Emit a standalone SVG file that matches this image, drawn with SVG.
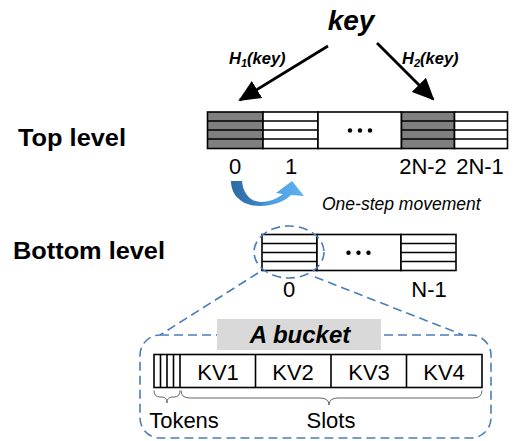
<svg xmlns="http://www.w3.org/2000/svg" width="520" height="441" viewBox="0 0 520 441">
<style>
.cell{fill:#fff;stroke:#000;stroke-width:1.6}
.dark{fill:#7f7f7f;stroke:#000;stroke-width:1.6}
.row{stroke:#000;stroke-width:1.6;fill:none}
.lbl{font-family:"Liberation Sans",Arial,sans-serif;font-size:22px;fill:#000;text-anchor:middle}
.big{font-family:"Liberation Sans",Arial,sans-serif;font-size:24px;font-weight:bold;fill:#000}
.bi{font-family:"Liberation Sans",Arial,sans-serif;font-weight:bold;font-style:italic;fill:#000}
.dash{fill:none;stroke:#4a7ebb;stroke-width:1.6;stroke-dasharray:9,5}
.brace{fill:none;stroke:#666;stroke-width:1}
.arrow{stroke:#000;stroke-width:2.8;fill:none;marker-end:url(#ah)}
</style>
<defs>
<marker id="ah" viewBox="0 0 22 20" refX="20" refY="10" markerWidth="22" markerHeight="20" markerUnits="userSpaceOnUse" orient="auto">
<path d="M0,0 L22,10 L0,20 Z" fill="#000"/>
</marker>
<linearGradient id="blue" x1="0" y1="0" x2="1" y2="0">
<stop offset="0" stop-color="#2c6aa3"/>
<stop offset="0.35" stop-color="#3a7fc0"/>
<stop offset="0.55" stop-color="#4f9fe0"/>
<stop offset="1" stop-color="#5cb2f2"/>
</linearGradient>
</defs>
<rect width="520" height="441" fill="#fff"/>

<g id="key">
<text class="bi" x="351" y="30" font-size="28" text-anchor="middle">key</text>
</g>
<g id="h1-label">
<text class="bi" x="229" y="64" font-size="16.5">H<tspan font-size="11" dy="3">1</tspan><tspan dy="-3">(key)</tspan></text>
</g>
<g id="h2-label">
<text class="bi" x="402" y="64" font-size="16.5">H<tspan font-size="11" dy="3">2</tspan><tspan dy="-3">(key)</tspan></text>
</g>

<g id="top-level-label">
<text class="big" x="18" y="146" textLength="108" lengthAdjust="spacingAndGlyphs">Top level</text>
</g>
<g id="bottom-level-label">
<text class="big" x="13" y="259" textLength="152" lengthAdjust="spacingAndGlyphs">Bottom level</text>
</g>

<g id="top-array">
<rect class="dark" x="207.5" y="112" width="55.5" height="36.5"/>
<path class="row" d="M207.5,121 H263 M207.5,130 H263 M207.5,139 H263"/>
<rect class="cell" x="263" y="112" width="55" height="36.5"/>
<path class="row" d="M263,121 H318 M263,130 H318 M263,139 H318"/>
<rect class="cell" x="318" y="112" width="83.5" height="36.5"/>
<circle cx="350" cy="130.5" r="2.2"/><circle cx="360" cy="130.5" r="2.2"/><circle cx="370" cy="130.5" r="2.2"/>
<rect class="dark" x="401.5" y="112" width="53" height="36.5"/>
<path class="row" d="M401.5,121 H454.5 M401.5,130 H454.5 M401.5,139 H454.5"/>
<rect class="cell" x="454.5" y="112" width="53" height="36.5"/>
<path class="row" d="M454.5,121 H507.5 M454.5,130 H507.5 M454.5,139 H507.5"/>
<text class="lbl" x="235" y="174">0</text>
<text class="lbl" x="291" y="174">1</text>
<text class="lbl" x="423" y="174">2N-2</text>
<text class="lbl" x="480" y="174">2N-1</text>
</g>

<g id="movement-label">
<text x="322" y="210" font-family="Liberation Sans, Arial, sans-serif" font-size="17.5" font-style="italic" fill="#000">One-step movement</text>
</g>

<g id="bottom-array">
<rect class="cell" x="262" y="234.5" width="55" height="36"/>
<path class="row" d="M262,243.5 H317 M262,252.5 H317 M262,261.5 H317"/>
<rect class="cell" x="317" y="234.5" width="84" height="36"/>
<circle cx="348.5" cy="252.7" r="2.2"/><circle cx="358.5" cy="252.7" r="2.2"/><circle cx="368.5" cy="252.7" r="2.2"/>
<rect class="cell" x="401" y="234.5" width="55" height="36"/>
<path class="row" d="M401,243.5 H456 M401,252.5 H456 M401,261.5 H456"/>
<text class="lbl" x="289" y="297">0</text>
<text class="lbl" x="429" y="297">N-1</text>
</g>

<g id="bucket">
<rect class="dash" x="140" y="335" width="351" height="103" rx="20" ry="20"/>
<rect x="217" y="319" width="164" height="31" fill="#d9d9d9"/>
<text class="bi" x="300" y="343" font-size="24" text-anchor="middle">A bucket</text>
<rect class="cell" x="154" y="354.5" width="328" height="33"/>
<path class="row" d="M160.5,354.5 V387.5 M167,354.5 V387.5 M173.5,354.5 V387.5 M180,354.5 V387.5 M255.5,354.5 V387.5 M331,354.5 V387.5 M406.5,354.5 V387.5"/>
<text class="lbl" x="218" y="380">KV1</text>
<text class="lbl" x="293" y="380">KV2</text>
<text class="lbl" x="369" y="380">KV3</text>
<text class="lbl" x="444" y="380">KV4</text>
<path class="brace" d="M154,390.5 Q154,397 160,397 L162,397 Q167,397 167,403 Q167,397 172,397 L174,397 Q180,397 180,390.5"/>
<path class="brace" d="M181,390.5 Q181,398 190,398 L320,398 Q329,398 329,405 Q329,398 338,398 L473,398 Q482,398 482,390.5"/>
<text class="lbl" x="184" y="428">Tokens</text>
<text class="lbl" x="331" y="428">Slots</text>
</g>

<g id="connectors">
<line class="arrow" x1="328" y1="46" x2="240" y2="100"/>
<line class="arrow" x1="377" y1="43" x2="433" y2="99"/>
<path d="M231,181 C231,197 244,206 260,206 C272,206 284,202 291,195 L304,196 L292,181 L276,193 L283,194 C277,199 268,202 261,202 C251,202 243,194 242,181 Z" fill="url(#blue)"/>
<ellipse class="dash" cx="289" cy="252" rx="35" ry="26"/>
<line class="dash" x1="258" y1="273" x2="160" y2="335"/>
<line class="dash" x1="315" y1="277" x2="463" y2="335"/>
</g>
</svg>
